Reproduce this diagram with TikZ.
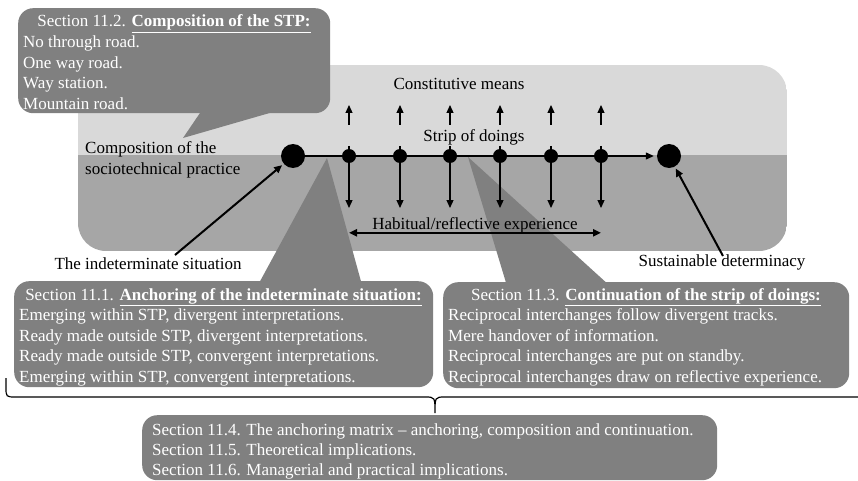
\documentclass[tikz,border=0pt]{standalone}
\usepackage{fontspec}
\setmainfont{Liberation Serif}
\usetikzlibrary{positioning,arrows.meta,calc}

\definecolor{bglight}{gray}{0.85}
\definecolor{bgdark}{gray}{0.65}
\definecolor{bubgray}{gray}{0.5}

\begin{document}
\begin{tikzpicture}[x=1pt,y=-1pt,
      >={Triangle[length=8pt,width=7pt]},
      every node/.style={font=\fontsize{17}{20.5}\selectfont,inner sep=0pt},
      bub/.style={fill=bubgray,rounded corners=15pt,anchor=north west},
      ptr/.style={fill=bubgray},
      wtxt/.style={text=white},
      bigdot/.style={circle,fill=black,minimum size=24pt},
      dot/.style={circle,fill=black,minimum size=14pt},
      arr/.style={line width=1.2pt,->},
      longarr/.style={line width=2pt,->,shorten >=2pt},
      dbl/.style={line width=2pt,<->}
    ]
    \useasboundingbox (0,0) rectangle (858,481);
    % practice background, light above the strip, dark below
    \begin{scope}
      \clip[rounded corners=28pt] (78,65) rectangle (787,251);
      \fill[bglight] (78,65) rectangle (787,155.5);
      \fill[bgdark] (78,155.5) rectangle (787,251);
    \end{scope}
    % callouts
    \fill[ptr] (202,110) -- (183,138) -- (280,110) -- cycle;
    \node[bub,minimum width=312pt,minimum height=105pt] (c2) at (18,8) {};
    \fill[ptr] (258,285) -- (327,158) -- (362,285) -- cycle;
    \node[bub,minimum width=419pt,minimum height=106pt] (c1) at (14,281) {};
    \fill[ptr] (507,286) -- (468,157) -- (610,286) -- cycle;
    \node[bub,minimum width=406pt,minimum height=106pt] (c3) at (443,282) {};
    \node[bub,minimum width=575pt,minimum height=65pt] (c4) at (142,415) {};
    % callout texts
    \node[wtxt,anchor=base] (h2) at (174,27) {Section 11.2. \underline{\textbf{Composition of the STP:}}};
    \foreach \t [count=\i] in {No through road.,One way road.,Way station.,Mountain road.}
      \node[wtxt,anchor=base west] (c2l\i) at (23,27+20.6*\i) {\t};
    \node[wtxt,anchor=base] (h1) at (223.5,300) {Section 11.1. \underline{\textbf{Anchoring of the indeterminate situation:}}};
    \foreach \t [count=\i] in {{Emerging within STP, divergent interpretations.},
        {Ready made outside STP, divergent interpretations.},
        {Ready made outside STP, convergent interpretations.},
        {Emerging within STP, convergent interpretations.}}
      \node[wtxt,anchor=base west] (c1l\i) at (19,300+20.6*\i) {\t};
    \node[wtxt,anchor=base] (h3) at (646,300) {Section 11.3. \underline{\textbf{Continuation of the strip of doings:}}};
    \foreach \t [count=\i] in {Reciprocal interchanges follow divergent tracks.,
        Mere handover of information.,
        Reciprocal interchanges are put on standby.,
        Reciprocal interchanges draw on reflective experience.}
      \node[wtxt,anchor=base west] (c3l\i) at (448,300+20.6*\i) {\t};
    \foreach \t [count=\i] in {Section 11.4. The anchoring matrix – anchoring{,} composition and continuation.,
        Section 11.5. Theoretical implications.,
        Section 11.6. Managerial and practical implications.}
      \node[wtxt,anchor=base west] (c4l\i) at (152,414.7+20.3*\i) {\t};
    % strip of doings
    \node[bigdot] (sit) at (293,156) {};
    \node[bigdot] (det) at (669,156) {};
    \foreach \x [count=\i] in {349,400,450,500,551,601}
      \node[dot] (d\i) at (\x,156) {};
    \draw[arr,shorten >=3pt] (sit) -- (det);
    \foreach \i in {1,...,6}{
      \draw[arr] ($(d\i)+(0,-10)$) -- ++(0,62);
      \draw[arr] ($(d\i)+(0,-31)$) -- ++(0,-20);
    }
    \node[anchor=base] (cons) at (459,90) {Constitutive means};
    \node[anchor=base] (strip) at (474,142) {Strip of doings};
    \node[anchor=base] (hab) at (475,229) {Habitual/reflective experience};
    \draw[dbl] (hab.south -| d1) -- (hab.south -| d6);
    \node[anchor=north west,align=left] (comp) at (85,141.5) {Composition of the\\sociotechnical practice};
    % situation and determinacy
    \node[anchor=base] (ind) at (148,269) {The indeterminate situation};
    \node[anchor=base] (sus) at (722,266) {Sustainable determinacy};
    \draw[longarr] ([xshift=27pt,yshift=2pt]ind.north) -- (sit);
    \draw[longarr] ([xshift=1pt,yshift=-2pt]sus.north) -- (det);
    % brace over the three parts
    \draw[line width=1.2pt] (6,378) -- (6,387) .. controls (6,397) .. (16,397) -- (425,397)
      .. controls (435,397) .. (435,413) .. controls (435,397) .. (445,397) -- (870,397);
  \end{tikzpicture}
\end{document}
